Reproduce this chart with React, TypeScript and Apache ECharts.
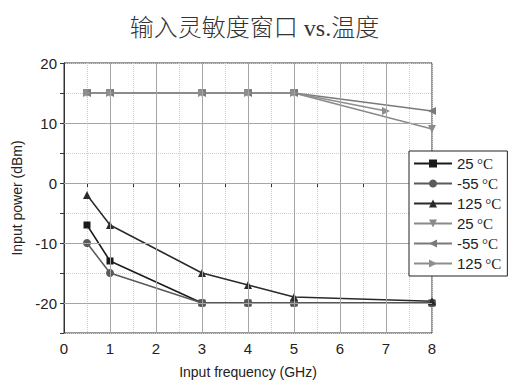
import React, { useEffect, useRef } from "react";
import * as echarts from "echarts";

const xFreq = [0.5, 1, 3, 4, 5, 8];
const xFreqB = [0.5, 1, 3, 4, 5, 7];
const low25 = [-7, -13, -20, -20, -20, -20];
const lowM55 = [-10, -15, -20, -20, -20, -20];
const low125 = [-2, -7, -15, -17, -19, -19.7];
const high25 = [15, 15, 15, 15, 15, 9];
const highM55 = [15, 15, 15, 15, 15, 12];
const high125 = [15, 15, 15, 15, 15, 12];
const majorY = [-20, -10, 0, 10];
const majorX = [1, 2, 3, 4, 5, 6, 7];
const names = ["25 °C", "-55 °C", "125 °C", "25 °C ", "-55 °C ", "125 °C "];

const zip = (xs: number[], ys: number[]) => xs.map((x, i) => [x, ys[i]]);

export default function App() {
  const ref = useRef<HTMLDivElement>(null);
  useEffect(() => {
    const chart = echarts.init(ref.current!, null, { renderer: "svg" });
    const mk = (name: string, xs: number[], ys: number[], color: string, symbol: string, rot = 0) => ({
      name,
      type: "line",
      data: zip(xs, ys),
      symbol,
      symbolSize: symbol === "rect" ? 7 : 8,
      symbolRotate: rot,
      lineStyle: { color, width: 1.5 },
      itemStyle: { color },
      z: 3,
    });
    chart.setOption({
      animation: false,
      backgroundColor: "#fff",
      title: {
        text: "输入灵敏度窗口 vs.温度",
        left: "center",
        top: 11,
        textStyle: { fontFamily: "'Liberation Serif', 'Noto Sans CJK SC', serif", fontSize: 24, fontWeight: 300, color: "#333" },
      },
      grid: { left: 64, right: 77, top: 63, bottom: 53, show: true, borderColor: "#333", borderWidth: 1, backgroundColor: "transparent" },
      xAxis: {
        type: "value",
        min: 0,
        max: 8,
        interval: 0.5,
        name: "Input frequency (GHz)",
        nameLocation: "middle",
        nameGap: 32,
        nameTextStyle: { fontFamily: "'Liberation Sans', Arial", fontSize: 14, color: "#222" },
        axisLine: { lineStyle: { color: "#333", width: 1 } },
        axisTick: { show: true, length: 4, lineStyle: { color: "#333" } },
        axisLabel: {
          fontFamily: "'Liberation Sans', Arial",
          fontSize: 15,
          color: "#222",
          margin: 8,
          formatter: (v: number) => (Number.isInteger(v) ? String(v) : ""),
        },
        splitLine: { show: true, lineStyle: { color: "#ccc", type: "dotted", width: 1 } },
      },
      yAxis: {
        type: "value",
        min: -25,
        max: 20,
        interval: 5,
        name: "Input power (dBm)",
        nameLocation: "middle",
        nameGap: 36,
        nameTextStyle: { fontFamily: "'Liberation Sans', Arial", fontSize: 14, color: "#222" },
        axisLine: { show: true, lineStyle: { color: "#333", width: 1 } },
        axisTick: { show: true, length: 4, lineStyle: { color: "#333" } },
        axisLabel: {
          fontFamily: "'Liberation Sans', Arial",
          fontSize: 15,
          color: "#222",
          margin: 7,
          formatter: (v: number) => (v % 10 === 0 ? String(v) : ""),
        },
        splitLine: { show: true, lineStyle: { color: "#ccc", type: "dotted", width: 1 } },
      },
      legend: {
        orient: "vertical",
        left: 409,
        top: 151,
        backgroundColor: "#fff",
        borderColor: "#222",
        borderWidth: 1,
        borderRadius: 0,
        padding: [5, 6, 5, 4],
        itemWidth: 38,
        itemHeight: 10,
        itemGap: 5,
        data: names,
        formatter: (n: string) => {
          const t = n.trim();
          const num = t.replace(" °C", "");
          return `{n|${num}} {u|°C}`;
        },
        textStyle: {
          color: "#222",
          rich: {
            n: { fontFamily: "'Liberation Sans', Arial", fontSize: 15, color: "#222", lineHeight: 17 },
            u: { fontFamily: "'Liberation Serif', serif", fontSize: 15, color: "#222", lineHeight: 17 },
          },
        },
        z: 10,
      },
      series: [
        {
          name: "grid-major",
          type: "line",
          data: [],
          z: 1,
          silent: true,
          markLine: {
            silent: true,
            symbol: "none",
            label: { show: false },
            lineStyle: { color: "#a5a5a5", type: "solid", width: 1 },
            data: [...majorY.map((y) => ({ yAxis: y })), ...majorX.map((x) => ({ xAxis: x }))],
          },
        },
        mk(names[0], xFreq, low25, "#1a1a1a", "rect"),
        mk(names[1], xFreq, lowM55, "#5a5a5a", "circle"),
        mk(names[2], xFreq, low125, "#2a2a2a", "triangle"),
        mk(names[3], xFreq, high25, "#8a8a8a", "triangle", 180),
        mk(names[4], xFreq, highM55, "#7a7a7a", "triangle", 90),
        mk(names[5], xFreqB, high125, "#8e8e8e", "triangle", -90),
      ],
    });
    return () => chart.dispose();
  }, []);
  return <div ref={ref} style={{ width: 509, height: 386, position: "absolute", left: 0, top: 0 }} />;
}
